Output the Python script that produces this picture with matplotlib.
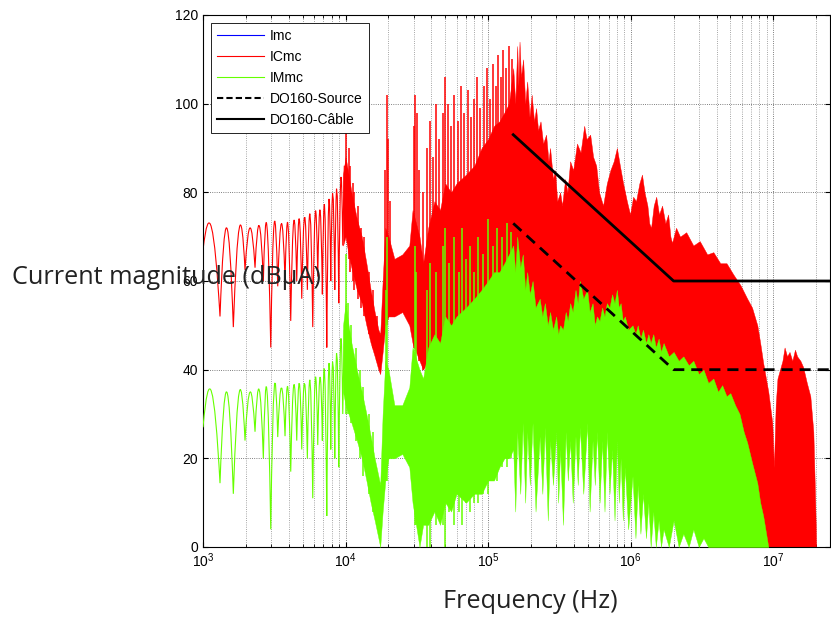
import numpy as np
import matplotlib.pyplot as plt
from matplotlib.lines import Line2D
from matplotlib.path import Path
from matplotlib.patches import PathPatch

# low-frequency lobes (shared frequencies, alternating valley / peak)
lobe_f = [1000, 1150, 1316, 1466, 1632, 1800, 1971, 2140, 2317, 2480, 2650, 2800,
          2987, 3150, 3344, 3550, 3762, 3940, 4124, 4330, 4545, 4740, 4928, 5160,
          5395, 5640, 5886, 6130, 6381, 6630, 6874, 7130, 7382, 7630, 7873, 8140,
          8400, 8680, 8961, 9260, 9557, 9800]
icmc_lobe = [67, 72, 52, 72, 49.6, 72, 62.5, 72, 63, 72.5, 60, 72.5, 45, 73, 58.8, 73,
             60, 73, 51, 73.5, 60, 74, 56, 74.5, 58, 75, 49.6, 75.5, 61, 76, 57, 77,
             45, 78, 60, 80, 58, 81, 55, 83, 68, 86]
immc_lobe = [27, 35, 14.4, 35, 12, 35, 24, 35, 26, 35.5, 20, 35.5, 4, 36, 24.8, 36,
             25, 36, 17, 36.5, 24, 37, 22, 37, 20, 37.5, 11, 38, 23, 38.5, 24, 39.5,
             7, 41, 22, 42, 20, 44, 18, 46.7, 30, 49]

# 10 kHz - 150 kHz band (shared frequencies)
mid_f = [9.6e3, 1.0e4, 1.05e4, 1.1e4, 1.2e4, 1.3e4, 1.4e4, 1.5e4, 1.6e4, 1.7e4,
         1.75e4, 1.82e4, 1.9e4, 2.0e4, 2.2e4, 2.5e4, 2.8e4, 2.95e4, 3.3e4, 3.5e4,
         3.8e4, 4.2e4, 4.6e4, 5.0e4, 5.5e4, 6.0e4, 7.0e4, 8.0e4, 9.0e4, 1.0e5,
         1.1e5, 1.2e5, 1.3e5, 1.4e5]
icmc_mid_hi = [84, 88, 84, 80, 74, 70, 64, 58, 53, 49,
               48, 60, 72, 70, 65, 66, 68, 76, 70, 64,
               72, 78, 76, 82, 80, 82, 84, 86, 90, 92,
               95, 96, 98, 100]
icmc_mid_lo = [68, 70, 66, 63, 58, 55, 50, 46, 43, 40,
               39, 44, 50, 52, 52, 53, 50, 46, 42, 40,
               42, 45, 45, 48, 48, 50, 52, 52, 55, 55,
               58, 58, 60, 60]
immc_mid_hi = [50, 55, 50, 46, 40, 35, 30, 25, 20, 16,
               14, 30, 42, 40, 32, 32, 36, 45, 40, 38,
               45, 48, 46, 52, 50, 52, 54, 56, 58, 60,
               62, 62, 64, 66]
immc_mid_lo = [35, 32, 30, 28, 24, 20, 15, 10, 6, 2,
               0, 8, 15, 20, 20, 21, 18, 10, 0, 5,
               5, 8, 5, 10, 8, 12, 10, 12, 12, 15,
               15, 18, 20, 20]

# ICmc narrow resonance spikes (frequency, top, bottom)
icmc_spk_f = [1.0e4, 1.05e4, 1.08e4, 1.12e4, 1.15e4, 1.22e4, 1.28e4, 1.35e4, 1.45e4, 1.55e4,
              1.65e4, 1.9e4, 1.95e4, 1.98e4, 2.05e4, 3.0e4, 3.08e4, 3.15e4, 3.25e4, 3.5e4,
              3.7e4, 3.9e4, 4.1e4, 4.3e4, 4.5e4, 4.8e4, 5.0e4, 5.2e4, 5.5e4, 5.8e4,
              6.1e4, 6.5e4, 6.8e4, 7.2e4, 7.6e4, 8.0e4, 8.4e4, 8.8e4, 9.3e4, 9.8e4,
              1.03e5, 1.08e5, 1.13e5, 1.18e5, 1.23e5, 1.28e5, 1.34e5, 1.4e5, 1.46e5]
icmc_spk_top = [97, 90, 86, 82, 80, 77, 72, 70, 62, 58,
                52, 85, 102, 92, 78, 95, 102, 98, 85, 80,
                90, 96, 88, 100, 92, 98, 106, 100, 95, 102,
                96, 104, 98, 103, 97, 101, 106, 99, 104, 108,
                101, 109, 104, 111, 106, 112, 108, 113, 110]
icmc_spk_bot = [70, 65, 62, 60, 58, 56, 54, 52, 48, 45,
                42, 50, 50, 52, 52, 45, 45, 45, 42, 40,
                42, 42, 42, 45, 45, 48, 48, 48, 48, 50,
                50, 50, 50, 52, 52, 52, 55, 55, 55, 55,
                55, 58, 58, 58, 58, 60, 60, 60, 60]

# IMmc narrow resonance spikes (frequency, top, bottom)
immc_spk_f = [1.0e4, 1.04e4, 1.1e4, 1.18e4, 1.26e4, 1.33e4, 1.45e4, 1.55e4, 1.92e4, 1.95e4,
              3.05e4, 3.12e4, 3.7e4, 3.9e4, 4.3e4, 4.8e4, 5.0e4, 5.3e4, 5.8e4, 6.2e4,
              6.6e4, 7.0e4, 7.5e4, 8.0e4, 8.5e4, 9.2e4, 1.0e5, 1.08e5, 1.15e5, 1.25e5,
              1.35e5, 1.45e5]
immc_spk_top = [66, 55, 50, 45, 40, 36, 30, 26, 58, 70,
                68, 62, 58, 64, 62, 68, 72, 64, 70, 62,
                72, 65, 68, 62, 70, 66, 74, 68, 72, 70,
                73, 71]
immc_spk_bot = [30, 30, 28, 24, 20, 16, 12, 8, 15, 15,
                5, 5, 0, 0, 5, 5, 0, 8, 5, 8,
                5, 10, 8, 10, 10, 12, 12, 15, 15, 18,
                18, 20]

# ICmc from 150 kHz
icmc_hf_f = [1.5e5, 1.55e5, 1.6e5, 1.63e5, 1.66e5, 1.7e5, 1.76e5, 1.82e5, 1.88e5, 1.95e5,
             2.02e5, 2.1e5, 2.17e5, 2.24e5, 2.33e5, 2.43e5, 2.55e5, 2.65e5, 2.72e5, 2.85e5,
             2.95e5, 3.05e5, 3.2e5, 3.3e5, 3.47e5, 3.6e5, 3.76e5, 3.95e5, 4.2e5, 4.45e5,
             4.72e5, 4.9e5, 5.2e5, 5.45e5, 5.73e5, 6.0e5, 6.4e5, 6.8e5, 7.2e5, 7.6e5,
             8.0e5, 8.4e5, 8.85e5, 9.4e5, 9.9e5, 1.04e6, 1.09e6, 1.15e6, 1.2e6, 1.25e6,
             1.31e6, 1.35e6, 1.39e6, 1.45e6, 1.51e6, 1.58e6, 1.66e6, 1.75e6, 1.83e6, 1.9e6,
             1.95e6, 2.08e6, 2.22e6, 2.45e6, 2.75e6, 3.05e6, 3.44e6, 3.8e6, 4.25e6, 4.7e6,
             5.24e6, 5.9e6, 6.57e6, 7.1e6, 7.73e6, 8.1e6, 8.5e6, 9.23e6, 9.84e6, 1.01e7,
             1.04e7, 1.07e7, 1.16e7, 1.2e7, 1.25e7, 1.3e7, 1.36e7, 1.42e7, 1.47e7, 1.55e7,
             1.62e7, 1.72e7, 1.82e7, 1.91e7, 1.97e7, 2.0e7]
icmc_hf_hi = [108, 100, 113, 104, 114, 106, 110, 100, 105, 97,
              102, 96, 99, 94, 96, 91, 93, 87, 90, 83,
              85, 78, 80, 77, 83, 80, 87, 85, 91, 89,
              95, 92, 93, 88, 86, 80, 77, 82, 85, 87,
              90, 86, 82, 78, 75, 79, 78, 82, 84, 80,
              77, 73, 72, 77, 79, 75, 77, 73, 75, 70,
              68.6, 72, 70, 71, 68, 69, 66, 66.5, 64, 64,
              61.5, 59, 56, 54, 50, 46, 41.5, 35, 28, 18,
              32, 38, 42, 45, 43, 44, 42, 44.5, 43, 42,
              40.6, 37, 34, 26, 10, 0]
icmc_hf_lo = [45, 45, 45, 45, 45, 45, 45, 44, 44, 44,
              44, 43, 43, 42, 42, 42, 41, 41, 40, 40,
              40, 39, 38, 38, 38, 38, 38, 38, 38, 38,
              38, 37, 37, 36, 36, 35, 35, 35, 35, 35,
              34, 34, 33, 32, 32, 31, 31, 30, 30, 29,
              29, 28, 28, 28, 27, 27, 26, 26, 25, 25,
              25, 24, 24, 23, 22, 21, 20, 18, 16, 14,
              12, 9, 6, 4, 2, 0, 0, 0, 0, 0,
              0, 0, 0, 0, 0, 0, 0, 0, 0, 0,
              0, 0, 0, 0, 0, 0]

# IMmc from 150 kHz
immc_hf_f = [1.5e5, 1.55e5, 1.6e5, 1.68e5, 1.75e5, 1.82e5, 1.88e5, 1.96e5, 2.05e5, 2.15e5,
             2.3e5, 2.4e5, 2.5e5, 2.62e5, 2.72e5, 2.85e5, 3.0e5, 3.1e5, 3.2e5, 3.35e5,
             3.5e5, 3.62e5, 3.76e5, 3.92e5, 4.1e5, 4.25e5, 4.4e5, 4.65e5, 4.95e5, 5.15e5,
             5.4e5, 5.6e5, 5.8e5, 6.05e5, 6.3e5, 6.55e5, 6.8e5, 7.1e5, 7.4e5, 7.7e5,
             8.0e5, 8.25e5, 8.5e5, 8.8e5, 9.1e5, 9.6e5, 1.03e6, 1.08e6, 1.12e6, 1.17e6,
             1.22e6, 1.28e6, 1.33e6, 1.38e6, 1.44e6, 1.5e6, 1.57e6, 1.63e6, 1.7e6, 1.85e6,
             2.0e6, 2.17e6, 2.34e6, 2.55e6, 2.75e6, 3.0e6, 3.24e6, 3.5e6, 3.8e6, 4.1e6,
             4.38e6, 4.7e6, 5.0e6, 5.4e6, 5.8e6, 6.2e6, 6.57e6, 7.1e6, 7.73e6, 8.1e6,
             8.5e6, 9.23e6]
immc_hf_hi = [68, 62, 70, 63, 66, 58, 62, 57, 60, 54,
              56, 52, 55, 50, 53, 49, 52, 48, 50, 49,
              53, 51, 55, 53, 58, 55, 60, 56, 58, 53,
              55, 50, 52, 51, 54, 52, 55, 54, 57, 55,
              58, 54, 55, 51, 52, 49, 50, 48, 50, 47,
              49, 46, 48, 46, 48, 45, 47, 44, 46, 43,
              44, 42, 43, 41, 42, 39, 40, 37, 38, 35,
              36.5, 34, 34.7, 32, 30, 26, 23.5, 19, 14.4, 10,
              7, 0]
immc_hf_lo = [22, 8, 26, 12, 28, 10, 26, 14, 28, 8,
              25, 12, 27, 6, 24, 14, 26, 10, 22, 5,
              26, 15, 24, 10, 25, 14, 27, 12, 28, 8,
              24, 14, 26, 10, 24, 8, 26, 12, 22, 6,
              24, 10, 20, 6, 18, 4, 16, 2, 14, 3,
              12, 2, 10, 0, 8, 0, 6, 0, 4, 0,
              6, 0, 3, 0, 4, 0, 2, 0, 0, 0,
              0, 0, 0, 0, 0, 0, 0, 0, 0, 0,
              0, 0]

# DO160 limits
do160_f = [1.5e5, 2e6, 2.5e7]
do160_source = [73, 40, 40]
do160_cable = [93, 60, 60]

red = '#ff0000'
green = '#66ff00'
blue = '#0000ff'


def lobe_path(freqs, vals):
    # rounded lobes between sharp valleys
    verts = [(freqs[0], vals[0])]
    codes = [Path.MOVETO]
    i = 1
    while i + 1 < len(freqs):
        v1, p, v2 = vals[i - 1], vals[i], vals[i + 1]
        verts += [(freqs[i], 2 * p - (v1 + v2) / 2), (freqs[i + 1], v2)]
        codes += [Path.CURVE3, Path.CURVE3]
        i += 2
    if i < len(freqs):
        verts.append((freqs[i], vals[i]))
        codes.append(Path.LINETO)
    return Path(verts, codes)


fig = plt.figure(figsize=(8.31, 6.17), dpi=100)
ax = fig.add_axes([203 / 831, 70 / 617, 627 / 831, 532 / 617])

# ICmc (Imc lies underneath it)
ax.add_patch(PathPatch(lobe_path(lobe_f, icmc_lobe), fill=False, ec=red, lw=0.8, zorder=2))
ax.fill_between(mid_f + icmc_hf_f, icmc_mid_lo + icmc_hf_lo, icmc_mid_hi + icmc_hf_hi,
                color=red, ec=red, lw=0.3, zorder=2)
ax.vlines(icmc_spk_f, icmc_spk_bot, icmc_spk_top, color=red, lw=1.1, zorder=2)

# IMmc
ax.add_patch(PathPatch(lobe_path(lobe_f, immc_lobe), fill=False, ec=green, lw=0.8, zorder=3))
ax.fill_between(mid_f + immc_hf_f, immc_mid_lo + immc_hf_lo, immc_mid_hi + immc_hf_hi,
                color=green, ec=green, lw=0.3, zorder=3)
ax.vlines(immc_spk_f, immc_spk_bot, immc_spk_top, color=green, lw=1.1, zorder=3)

ax.plot(do160_f, do160_source, 'k--', lw=2, dashes=(4, 2.5), zorder=4)
ax.plot(do160_f, do160_cable, 'k-', lw=2, zorder=4)

ax.set_xscale('log')
ax.set_xlim(1e3, 2.5e7)
ax.set_ylim(0, 120)
ax.set_yticks(range(0, 121, 20))
ax.grid(True, which='major', ls=':', color='#555555', lw=0.6, zorder=0)
ax.grid(True, which='minor', axis='x', ls=':', color='#888888', lw=0.6, zorder=0)
ax.set_axisbelow(True)
ax.tick_params(which='both', direction='in', top=True, right=True, labelsize=10)
for lab in ax.get_xticklabels() + ax.get_yticklabels():
    lab.set_family('Liberation Sans')

handles = [Line2D([], [], color=blue, lw=0.8),
           Line2D([], [], color=red, lw=0.8),
           Line2D([], [], color=green, lw=0.8),
           Line2D([], [], color='k', lw=1.5, ls='--', dashes=(3, 1.5)),
           Line2D([], [], color='k', lw=1.5)]
labels = ['Imc', 'ICmc', 'IMmc', 'DO160-Source', 'DO160-Câble']
leg = ax.legend(handles, labels, loc='upper left', bbox_to_anchor=(0.012, 0.985),
                prop={'family': 'Liberation Sans', 'size': 10}, fancybox=False,
                framealpha=1, edgecolor='k', handlelength=3.4, labelspacing=0.5,
                borderpad=0.45, handletextpad=0.4, borderaxespad=0)
leg.get_frame().set_linewidth(0.6)
leg.set_zorder(10)

fig.text(166 / 831, 1 - 277 / 617, 'Current magnitude (dBµA)', ha='center', va='center',
         family='Open Sans', fontsize=18.2, color='#222222')
fig.text(530 / 831, 1 - 601 / 617, 'Frequency (Hz)', ha='center', va='center',
         family='Open Sans', fontsize=18.2, color='#222222')

fig.savefig('out.png', dpi=100)
